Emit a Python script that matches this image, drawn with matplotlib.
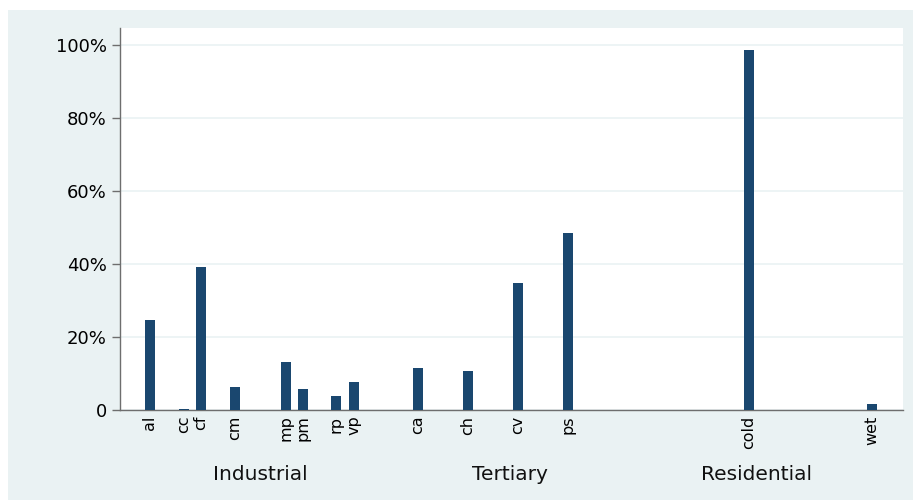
import matplotlib
matplotlib.use("Agg")
import matplotlib.pyplot as plt
from matplotlib.patches import Rectangle
from matplotlib.ticker import FuncFormatter

# Share of each activity by sector (percent)
industrial_labels = ["al", "cc", "cf", "cm", "mp", "pm", "rp", "vp"]
industrial_values = [24.7, 0.4, 39.1, 6.4, 13.2, 5.7, 3.8, 7.8]

tertiary_labels = ["ca", "ch", "cv", "ps"]
tertiary_values = [11.5, 10.7, 34.8, 48.5]

residential_labels = ["cold", "wet"]
residential_values = [98.6, 1.6]

groups = ["Industrial", "Tertiary", "Residential"]
y_ticks = [0, 20, 40, 60, 80, 100]

# Layout: bar slots along the category axis and group label centres
industrial_slots = [1.79, 3.82, 4.82, 6.85, 9.89, 10.91, 12.91, 13.95]
tertiary_slots = [17.77, 20.78, 23.74, 26.73]
residential_slots = [37.53, 44.91]
group_centres = [8.36, 23.28, 38.03]
x_span = 46.75

BG = "#EAF2F3"
BAR = "#1A476F"
AXIS = "#6E6E6E"

fig = plt.figure(figsize=(9.13, 5.0), dpi=100, facecolor="white")
fig.patches.append(Rectangle((8 / 913, 0), 1 - 8 / 913, 1 - 10 / 500,
                             transform=fig.transFigure, facecolor=BG,
                             edgecolor="none", zorder=-10))

ax = fig.add_axes([120 / 913, 90 / 500, 783 / 913, 382 / 500])
ax.set_zorder(1)
ax.set_facecolor("white")

labels = industrial_labels + tertiary_labels + residential_labels
values = industrial_values + tertiary_values + residential_values
slots = industrial_slots + tertiary_slots + residential_slots

ax.bar(slots, values, width=0.6, color=BAR, edgecolor="none", zorder=3)

ax.set_xlim(0, x_span)
ax.set_ylim(0, 104.66)

ax.set_yticks(y_ticks)
ax.yaxis.set_major_formatter(FuncFormatter(lambda v, p: "0" if v == 0 else f"{v:.0f}%"))
ax.tick_params(axis="y", length=6, width=1, color=AXIS, pad=3.5, labelsize=13,
               labelcolor="black")
ax.grid(axis="y", color=BG, linewidth=1.2, zorder=0)
ax.set_axisbelow(True)

ax.set_xticks(slots)
ax.set_xticklabels(labels, rotation=90, fontsize=11.5, ha="center", va="top")
ax.tick_params(axis="x", length=0, pad=4)

for side in ("top", "right"):
    ax.spines[side].set_visible(False)
for side in ("left", "bottom"):
    ax.spines[side].set_color(AXIS)
    ax.spines[side].set_linewidth(1.0)

for name, cx in zip(groups, group_centres):
    ax.text(cx, -0.17, name, transform=ax.get_xaxis_transform(),
            ha="center", va="center", fontsize=14.5, color="#111111")

fig.savefig("out.png", dpi=100, facecolor=fig.get_facecolor())
